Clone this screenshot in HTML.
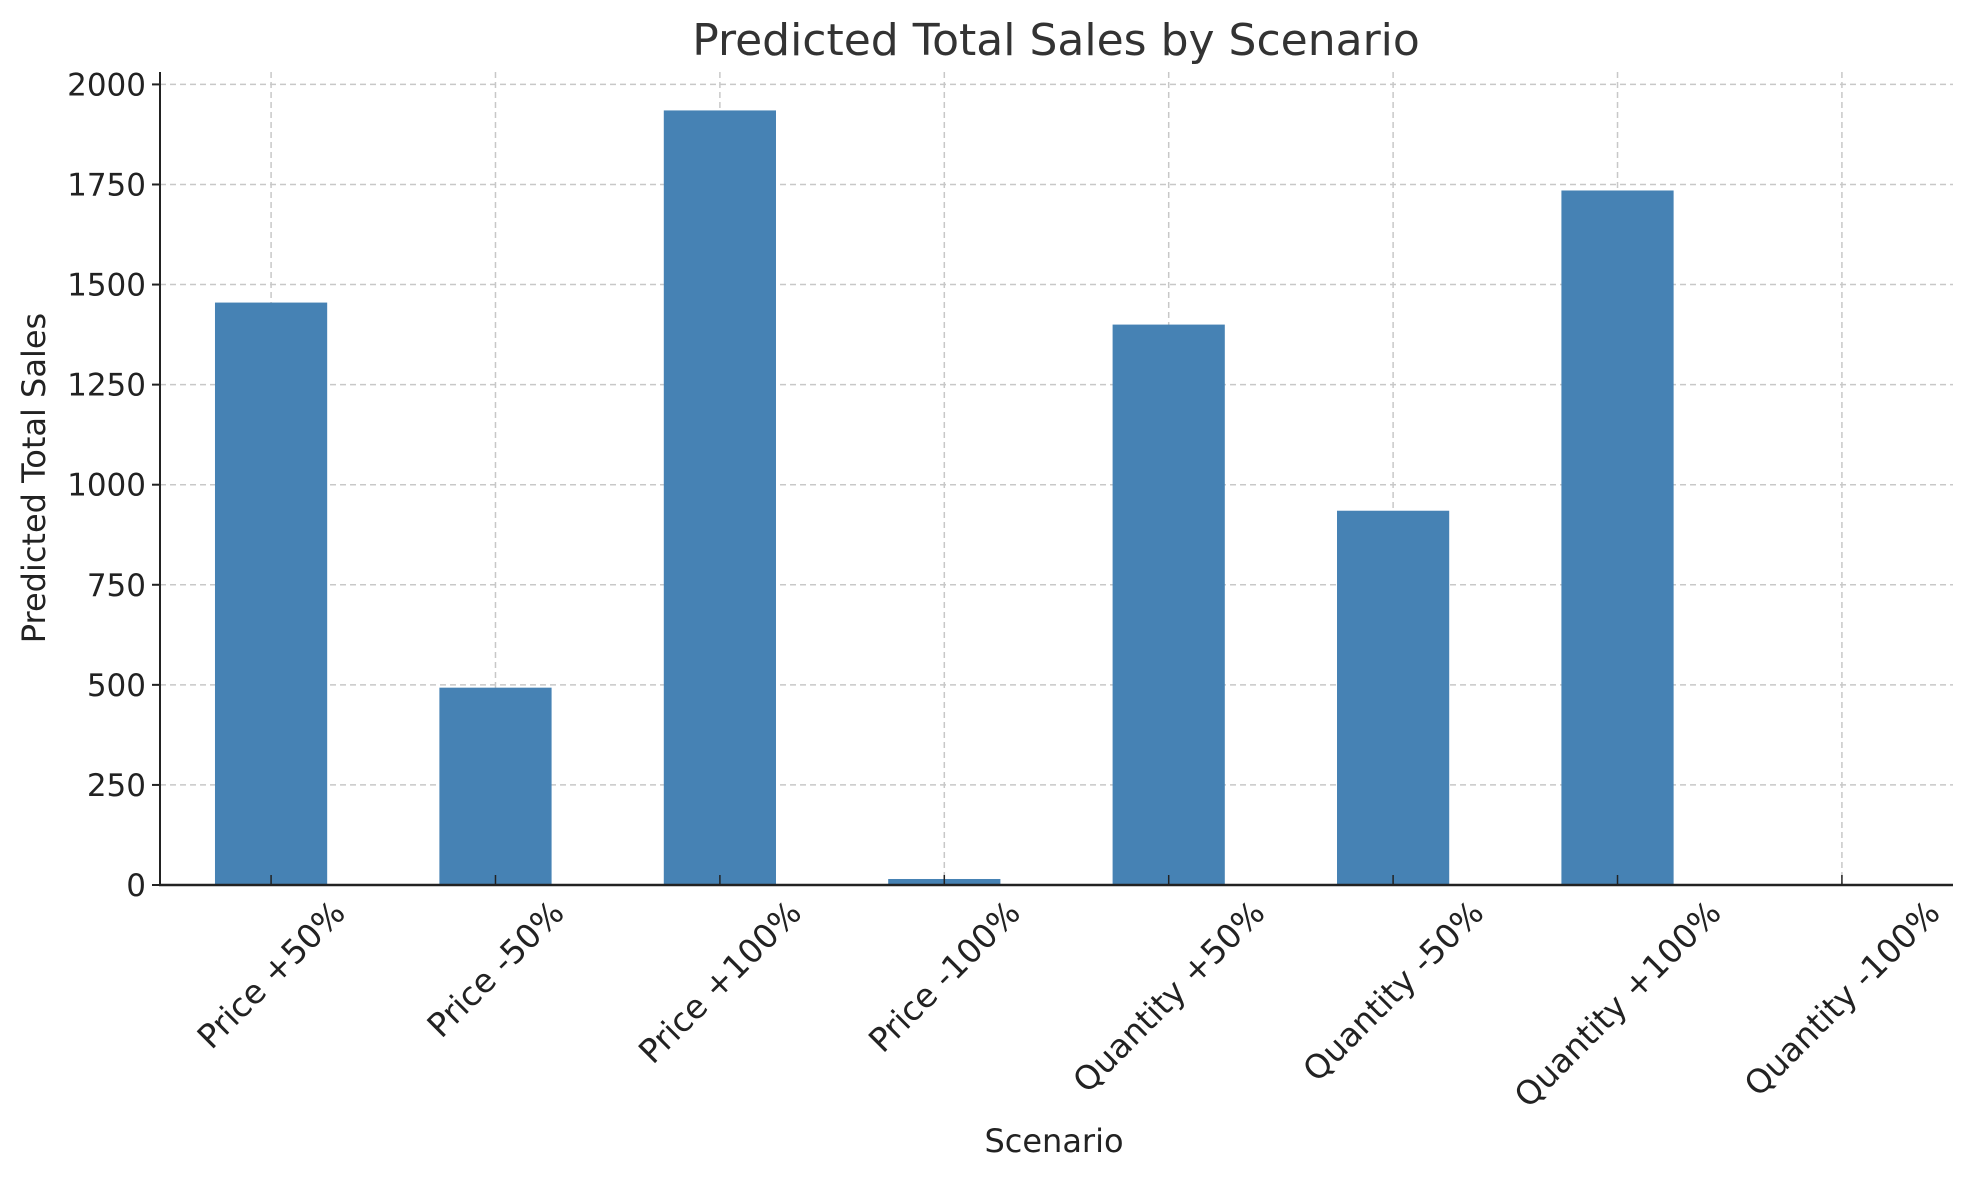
<!DOCTYPE html>
<html><head><meta charset="utf-8"><style>
html,body{margin:0;padding:0;background:#fff}
svg{display:block;font-family:"DejaVu Sans","Liberation Sans",sans-serif}
</style></head><body>
<svg id="chart" width="1972" height="1180" viewBox="0 0 1972 1180">
<text x="1056" y="55" text-anchor="middle" font-size="44" fill="#333">Predicted Total Sales by Scenario</text>
<g id="grid"></g><g id="bars"></g><g id="axes"></g>
<text x="0" y="0" transform="translate(45,478) rotate(-90)" text-anchor="middle" font-size="32" fill="#222">Predicted Total Sales</text>
<text x="1054" y="1152" text-anchor="middle" font-size="32" fill="#222">Scenario</text>
</svg>
<script>
const categories = ["Price +50%","Price -50%","Price +100%","Price -100%","Quantity +50%","Quantity -50%","Quantity +100%","Quantity -100%"];
const salesValues = [1455, 493, 1935, 15, 1400, 935, 1735, 0];
const yTicks = [0,250,500,750,1000,1250,1500,1750,2000];

const L=160,R=1953,T=72,B=885, yMax=2031;
const NS="http://www.w3.org/2000/svg";
const xs=i=>L+(i+0.495)*(R-L)/(categories.length-0.01);
const ys=v=>B-(v/yMax)*(B-T);
function mk(tag,attrs,parent){const e=document.createElementNS(NS,tag);for(const k in attrs)e.setAttribute(k,attrs[k]);parent.appendChild(e);return e;}
const grid=document.getElementById('grid'),bars=document.getElementById('bars'),axes=document.getElementById('axes');
const step=(R-L)/(categories.length-0.01);
yTicks.forEach(t=>{
  const y=ys(t);
  const g=mk('line',{x1:L,x2:R,y1:y,y2:y,stroke:'#c8c8c8','stroke-width':1.5,'stroke-dasharray':'6,4'},grid);
  
  
  const tk=mk('line',{x1:L-8,x2:L,y1:y,y2:y,stroke:'#222','stroke-width':2},axes);
  
  
  const tx=mk('text',{x:L-14,y:y+11,'text-anchor':'end','font-size':31,fill:'#222'},axes);
  tx.textContent=t;
  
  
});
categories.forEach((c,i)=>{
  const x=xs(i);
  const g=mk('line',{x1:x,x2:x,y1:T,y2:B,stroke:'#c8c8c8','stroke-width':1.5,'stroke-dasharray':'6,4'},grid);
  
  
  const w=step*0.5, v=salesValues[i];
  const r=mk('rect',{x:x-w/2,y:ys(v),width:w,height:B-ys(v),fill:'#4682b4'},bars);
  
  
  const tk=mk('line',{x1:x,x2:x,y1:B,y2:B-10,stroke:'#222','stroke-width':1.5},axes);
  
  
  const tx=mk('text',{x:0,y:0,'text-anchor':'middle','dominant-baseline':'central','font-size':33,fill:'#222'},axes);
  tx.textContent=c;
  
  
  const len=tx.getComputedTextLength(), h=33;
  const cy=895+(len+h)*0.7071/2;
  tx.setAttribute('transform','translate('+x+','+cy+') rotate(-45)');
});
const ls=mk('line',{x1:L,x2:L,y1:T,y2:B+1,stroke:'#222','stroke-width':2},axes);


const bs=mk('line',{x1:L-1,x2:R,y1:B,y2:B,stroke:'#222','stroke-width':2.5},axes);


</script>
</body></html>
